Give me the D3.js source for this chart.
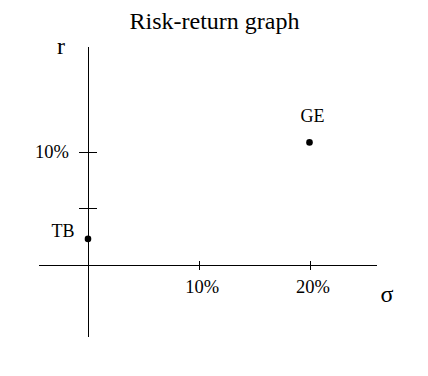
<!DOCTYPE html>
<html><head><meta charset="utf-8">
<script src="https://cdn.jsdelivr.net/npm/d3@7"></script>
<style>body{margin:0;background:#fff}svg{display:block}text{font-family:"Liberation Serif","Times New Roman",serif;fill:#000}</style>
</head><body>
<script>
const names = ["TB", "GE"];
const sigmaValues = [0, 20];
const returnValues = [2.3, 10.8];
const xTickValues = [10, 20];
const xTickLabels = ["10%", "20%"];
const yTickValues = [5, 10];
const yTickLabels = ["", "10%"];

const W = 428, H = 376;
const svg = d3.select("body").append("svg").attr("width", W).attr("height", H);
const x = d3.scaleLinear().domain([0, 20]).range([88, 309.5]);
const y = d3.scaleLinear().domain([0, 10]).range([265, 151.5]);

svg.append("text").attr("x", 214.5).attr("y", 29).attr("text-anchor", "middle")
  .style("font-size", "24px").text("Risk-return graph");

svg.append("line").attr("x1", x(0)).attr("x2", x(0)).attr("y1", 47).attr("y2", 337)
  .attr("stroke", "#000").attr("stroke-width", 1).attr("shape-rendering", "crispEdges");
svg.append("line").attr("x1", 39).attr("x2", 377).attr("y1", y(0)).attr("y2", y(0))
  .attr("stroke", "#000").attr("stroke-width", 1).attr("shape-rendering", "crispEdges");

const xAxis = d3.axisBottom(x).tickValues(xTickValues).tickSize(0)
  .tickFormat((d, i) => xTickLabels[i]);
const gx = svg.append("g").attr("transform", `translate(0,${y(0)})`).call(xAxis);
gx.select(".domain").remove();
gx.selectAll(".tick text").attr("y", 28).attr("dy", 0).attr("dx", 3).style("font-size", "18.5px")
  .style("font-family", '"Liberation Serif",serif').attr("fill", "#000");
gx.selectAll(".tick").append("line").attr("y1", -4).attr("y2", 5).attr("stroke", "#000")
  .attr("shape-rendering", "crispEdges");

const yAxis = d3.axisLeft(y).tickValues(yTickValues).tickSize(0)
  .tickFormat((d, i) => yTickLabels[i]);
const gy = svg.append("g").attr("transform", `translate(${x(0)},0)`).call(yAxis);
gy.select(".domain").remove();
gy.selectAll(".tick text").attr("x", -19).attr("dy", "0.35em").style("font-size", "18.5px")
  .style("font-family", '"Liberation Serif",serif').attr("fill", "#000");
gy.selectAll(".tick").append("line").attr("x1", -9).attr("x2", 9).attr("stroke", "#000")
  .attr("shape-rendering", "crispEdges");

svg.append("text").attr("x", 61).attr("y", 54).attr("text-anchor", "middle")
  .style("font-size", "24px").text("r");
svg.append("text").attr("x", 387).attr("y", 302).attr("text-anchor", "middle")
  .style("font-size", "24px").text("σ");

svg.selectAll("circle.pt").data(names).enter().append("circle").attr("class", "pt")
  .attr("cx", (d, i) => x(sigmaValues[i])).attr("cy", (d, i) => y(returnValues[i]))
  .attr("r", 3.3).attr("fill", "#000");

const labelPos = [{dx: -25, dy: -2, anchor: "middle"}, {dx: 3, dy: -20, anchor: "middle"}];
svg.selectAll("text.lbl").data(names).enter().append("text").attr("class", "lbl")
  .attr("x", (d, i) => x(sigmaValues[i]) + labelPos[i].dx)
  .attr("y", (d, i) => y(returnValues[i]) + labelPos[i].dy)
  .attr("text-anchor", (d, i) => labelPos[i].anchor)
  .style("font-size", "18px").text(d => d);
</script>
</body></html>
